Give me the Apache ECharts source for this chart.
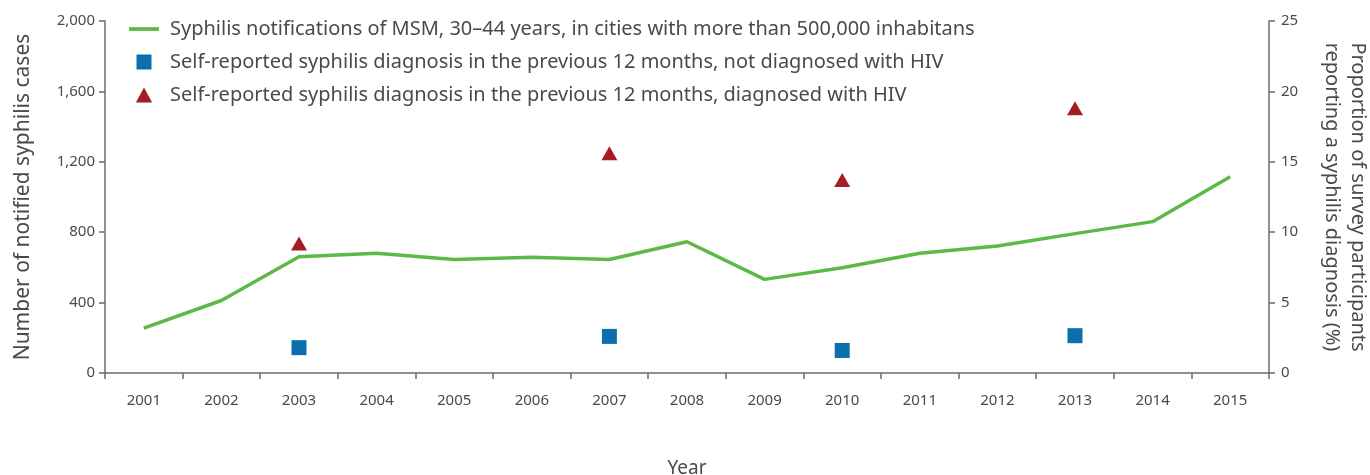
<!DOCTYPE html>
<html><head><meta charset="utf-8">
<script src="https://cdn.jsdelivr.net/npm/echarts@6/dist/echarts.min.js"></script>
<style>html,body{margin:0;padding:0;background:#fff}#c{width:1370px;height:475px}</style>
</head><body><div id="c"></div>
<script>
const years = ['2001','2002','2003','2004','2005','2006','2007','2008','2009','2010','2011','2012','2013','2014','2015'];
const notifications = [255, 412, 660, 680, 645, 657, 645, 746, 532, 598, 680, 722, 792, 860, 1115];
const notHIV = [null, null, 1.8, null, null, null, 2.6, null, null, 1.6, null, null, 2.65, null, null];
const withHIV = [null, null, 9.2, null, null, null, 15.6, null, null, 13.7, null, null, 18.8, null, null];
const leftTicks = [0, 400, 800, 1200, 1600, 2000];
const rightTicks = [0, 5, 10, 15, 20, 25];
const names = [
  'Syphilis notifications of MSM, 30\u201344 years, in cities with more than 500,000 inhabitans',
  'Self-reported syphilis diagnosis in the previous 12 months, not diagnosed with HIV',
  'Self-reported syphilis diagnosis in the previous 12 months, diagnosed with HIV'
];
const FONT = 'Noto Sans';
const TXT = '#4a4a4a';
const AX = '#6b6b6b';
const chart = echarts.init(document.getElementById('c'), null, {renderer: 'canvas'});
chart.setOption({
  animation: false,
  textStyle: {fontFamily: FONT, color: TXT},
  grid: {left: 105, right: 101, top: 21, bottom: 102, containLabel: false, outerBoundsMode: 'none'},
  legend: {
    left: 124, top: 14, orient: 'vertical', itemWidth: 30, itemHeight: 15, itemGap: 13,
    textStyle: {fontFamily: FONT, fontSize: 20, color: TXT, padding: [0, 0, 0, 6]},
    data: [
      {name: names[0], icon: 'path://M0,0H28V3.5H0Z'},
      {name: names[1], icon: 'path://M0,0H1V1H0Z'},
      {name: names[2], icon: 'path://M0.5,0L1,0.92H0Z'}
    ]
  },
  xAxis: {
    type: 'category', data: years, boundaryGap: true,
    name: 'Year', nameLocation: 'middle', nameGap: 86,
    nameTextStyle: {fontSize: 19, color: TXT, fontFamily: FONT},
    axisLine: {lineStyle: {color: AX, width: 1.5}},
    axisTick: {show: true, length: 6, lineStyle: {color: AX, width: 1.5}},
    axisLabel: {margin: 20, fontSize: 15, color: TXT},
    splitLine: {show: false}
  },
  yAxis: [{
    type: 'value', min: leftTicks[0], max: leftTicks[leftTicks.length-1], interval: 400, position: 'left',
    name: 'Number of notified syphilis cases', nameLocation: 'middle', nameRotate: 90, nameGap: 71,
    nameTextStyle: {fontSize: 21, color: TXT, fontFamily: FONT},
    axisLine: {show: true, lineStyle: {color: AX, width: 1.5}},
    axisTick: {show: true, length: 6, lineStyle: {color: AX, width: 1.5}},
    axisLabel: {margin: 10, fontSize: 15, color: TXT, formatter: v => v.toLocaleString('en-US')},
    splitLine: {show: false}
  }, {
    type: 'value', min: rightTicks[0], max: rightTicks[rightTicks.length-1], interval: 5, position: 'right',
    name: 'Proportion of survey participants\nreporting a syphilis diagnosis (%)', nameLocation: 'middle', nameRotate: -90, nameGap: 50,
    nameTextStyle: {fontSize: 20, color: TXT, fontFamily: FONT, lineHeight: 26},
    axisLine: {show: true, lineStyle: {color: AX, width: 1.5}},
    axisTick: {show: true, length: 6, lineStyle: {color: AX, width: 1.5}},
    axisLabel: {margin: 12, fontSize: 15, color: TXT},
    splitLine: {show: false}
  }],
  series: [{
    name: names[0], type: 'line', yAxisIndex: 0, data: notifications,
    symbol: 'none', lineStyle: {color: '#5cb947', width: 3.5}, itemStyle: {color: '#5cb947'}
  }, {
    name: names[1], type: 'scatter', yAxisIndex: 1, data: notHIV,
    symbol: 'rect', symbolSize: 15, itemStyle: {color: '#0b6fad', opacity: 1}
  }, {
    name: names[2], type: 'scatter', yAxisIndex: 1, data: withHIV,
    symbol: 'triangle', symbolSize: [16, 14], itemStyle: {color: '#a51d22', opacity: 1}
  }]
});
</script></body></html>
